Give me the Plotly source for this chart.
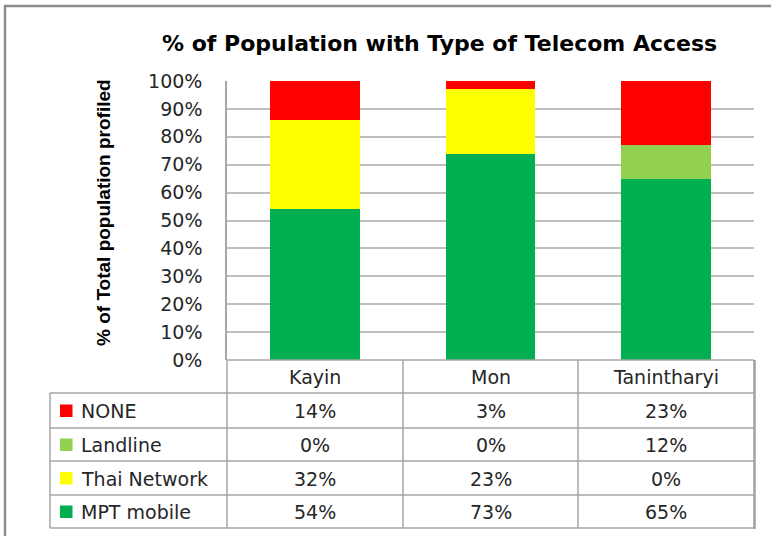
import plotly.graph_objects as go

# ---- data ----
regions = ["Kayin", "Mon", "Tanintharyi"]
series_names = ["MPT mobile", "Thai Network", "Landline", "NONE"]   # bottom -> top
mpt_mobile = [54, 73, 65]
thai_network = [32, 23, 0]
landline = [0, 0, 12]
none_access = [14, 3, 23]
tick_vals = [0, 10, 20, 30, 40, 50, 60, 70, 80, 90, 100]
tick_text = [f"{v}%" for v in tick_vals]
title_text = "% of Population with Type of Telecom Access"
ytitle_text = "% of Total population profiled"

series_values = [mpt_mobile, thai_network, landline, none_access]
colors = ["#00B050", "#FFFF00", "#92D050", "#FF0000"]

# ---- layout geometry (pixels) ----
FW, FH = 771, 536
L, R, T, B = 227, 754, 81, 360
W, H = R - L, B - T


def px(x):
    return (x - L) / W


def py(y):
    return (B - y) / H


fig = go.Figure()
for name, vals, col in zip(series_names, series_values, colors):
    fig.add_trace(go.Bar(x=regions, y=vals, name=name, marker=dict(color=col, line=dict(width=0)),
                         width=0.51, showlegend=False))

TXT = "#262626"
FONT = "DejaVu Sans"
FS = 19
shapes = []
ann = []
LINE = "#A6A6A6"

# table horizontal lines
row_edges = [393, 428, 461, 495, 528]
shapes.append(dict(type="line", xref="paper", yref="paper", x0=px(L), x1=px(R), y0=py(B), y1=py(B),
                   line=dict(color=LINE, width=1.5)))
for ye in row_edges:
    shapes.append(dict(type="line", xref="paper", yref="paper", x0=px(50), x1=px(R + 1), y0=py(ye), y1=py(ye),
                       line=dict(color=LINE, width=1.5)))
# vertical lines
col_edges = [L, 403, 578]
for xe in col_edges:
    shapes.append(dict(type="line", xref="paper", yref="paper", x0=px(xe), x1=px(xe), y0=py(B), y1=py(528),
                       line=dict(color=LINE, width=1.5)))
shapes.append(dict(type="line", xref="paper", yref="paper", x0=px(R + 0.5), x1=px(R + 0.5), y0=py(B), y1=py(529),
                   line=dict(color="#A0A0A0", width=2.5)))
shapes.append(dict(type="line", xref="paper", yref="paper", x0=px(50), x1=px(50), y0=py(393), y1=py(528),
                   line=dict(color=LINE, width=1.5)))
# outer border
shapes.append(dict(type="line", xref="paper", yref="paper", x0=px(5), x1=px(5), y0=py(5), y1=py(FH + 5),
                   line=dict(color="#8C8C8C", width=2.5)))
shapes.append(dict(type="line", xref="paper", yref="paper", x0=px(4), x1=px(FW + 5), y0=py(6), y1=py(6),
                   line=dict(color="#8C8C8C", width=2.5)))

# header (category names)
col_centers = [(col_edges[i] + (col_edges[i + 1] if i + 1 < len(col_edges) else R)) / 2 for i in range(3)]
for c, name in zip(col_centers, regions):
    ann.append(dict(x=px(c), y=py((B + 393) / 2), xref="paper", yref="paper", text=name, showarrow=False,
                    font=dict(family=FONT, size=FS, color=TXT), xanchor="center", yanchor="middle"))

# table rows: top to bottom = reverse of stacking order
for r, idx in enumerate(reversed(range(len(series_names)))):
    yc = (row_edges[r] + row_edges[r + 1]) / 2
    shapes.append(dict(type="rect", xref="paper", yref="paper", x0=px(60), x1=px(72.5), y0=py(yc - 6),
                       y1=py(yc + 6.5), fillcolor=colors[idx], line=dict(width=0)))
    ann.append(dict(x=px(79), y=py(yc + 0.5), xref="paper", yref="paper", text=series_names[idx], showarrow=False,
                    font=dict(family=FONT, size=FS, color=TXT), xanchor="left", yanchor="middle"))
    for c, v in zip(col_centers, series_values[idx]):
        ann.append(dict(x=px(c), y=py(yc + 0.5), xref="paper", yref="paper", text=f"{v}%", showarrow=False,
                        font=dict(family=FONT, size=FS, color=TXT), xanchor="center", yanchor="middle"))

# title
ann.append(dict(x=px(439), y=py(44), xref="paper", yref="paper", text=f"<b>{title_text}</b>", showarrow=False,
                font=dict(family=FONT, size=22, color="#000000"), xanchor="center", yanchor="middle"))
# y-axis title
ann.append(dict(x=px(103), y=py(213), xref="paper", yref="paper", text=f"<b>{ytitle_text}</b>", showarrow=False,
                textangle=-90, font=dict(family="Liberation Sans", size=19, color="#000000"),
                xanchor="center", yanchor="middle"))

fig.update_layout(
    width=FW, height=FH,
    margin=dict(l=L, r=FW - R, t=T, b=FH - B, pad=0),
    paper_bgcolor="white", plot_bgcolor="white",
    barmode="stack", barnorm="percent", bargap=0.49,
    shapes=shapes, annotations=ann,
    xaxis=dict(showticklabels=False, showgrid=False, zeroline=False, showline=False, fixedrange=True),
    yaxis=dict(range=[0, 100], tickvals=tick_vals, ticktext=tick_text, showgrid=True, gridcolor="#BFBFBF",
               gridwidth=1.5, zeroline=False, showline=True, linecolor=LINE, linewidth=1.5,
               ticks="", ticklabelstandoff=19,
               tickfont=dict(family=FONT, size=FS, color=TXT)),
)
fig.write_html("out.html", config={"displayModeBar": False},
               post_script="document.body.style.margin='0';")
